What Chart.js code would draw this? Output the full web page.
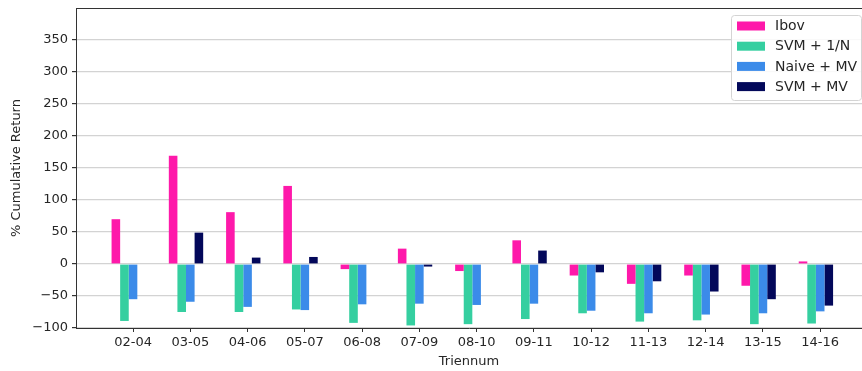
<!DOCTYPE html>
<html>
<head>
<meta charset="utf-8">
<script src="https://cdn.jsdelivr.net/npm/chart.js@4/dist/chart.umd.min.js"></script>
<style>
  html, body { margin: 0; padding: 0; background: #ffffff; overflow: hidden; }
  #wrap { width: 862px; height: 371px; }
</style>
</head>
<body>
<div id="wrap"><canvas id="chart" width="862" height="371"></canvas></div>
<script>
// Three-year windows
const categories = ['02-04', '03-05', '04-06', '05-07', '06-08', '07-09', '08-10',
                    '09-11', '10-12', '11-13', '12-14', '13-15', '14-16'];

// Cumulative return per window, in percent
const ibov    = [70, 169, 81, 122, -8, 24, -11, 37, -18, -31, -18, -34, 4];
const svm1n   = [-89, -75, -75, -71, -92, -96, -94, -86, -77, -90, -88, -94, -93];
const naiveMV = [-55, -59, -67, -72, -63, -62, -64, -62, -73, -77, -79, -77, -74];
const svmMV   = [0, 49, 10, 11, 0, -4, 0, 21, -13, -27, -43, -55, -65];

const yTicks = [-100, -50, 0, 50, 100, 150, 200, 250, 300, 350];

const seriesNames  = ['Ibov', 'SVM + 1/N', 'Naive + MV', 'SVM + MV'];
const seriesValues = [ibov, svm1n, naiveMV, svmMV];
const seriesColors = ['#fe19aa', '#35cfa0', '#3b8be9', '#03085a'];

// Each group of four bars sits so the tick falls on the third bar's centre.
const GROUP_SHIFT = -0.075;

const FONT = 'DejaVu Sans';
const TEXT = '#262626';
const SPINE = '#333333';

const datasets = seriesNames.map((name, s) => ({
  label: name,
  data: seriesValues[s].map((v, i) => ({ x: i + GROUP_SHIFT, y: v })),
  backgroundColor: seriesColors[s],
  borderWidth: 0,
  categoryPercentage: 0.6,
  barPercentage: 1.0
}));

// Top spine of the axes frame
const framePlugin = {
  id: 'frame',
  afterDraw(chart) {
    const { ctx, chartArea: a } = chart;
    ctx.save();
    ctx.strokeStyle = SPINE;
    ctx.lineWidth = 1;
    ctx.beginPath();
    ctx.moveTo(a.left, a.top + 0.5);
    ctx.lineTo(a.right, a.top + 0.5);
    ctx.stroke();
    ctx.restore();
  }
};

// Boxed legend in the upper right corner of the plot
const boxLegend = {
  id: 'boxLegend',
  afterDraw(chart) {
    const { ctx } = chart;
    const x = 731.5, y = 15.5, w = 130, h = 85, r = 3;
    ctx.save();
    ctx.beginPath();
    ctx.moveTo(x + r, y);
    ctx.lineTo(x + w - r, y);
    ctx.arcTo(x + w, y, x + w, y + r, r);
    ctx.lineTo(x + w, y + h - r);
    ctx.arcTo(x + w, y + h, x + w - r, y + h, r);
    ctx.lineTo(x + r, y + h);
    ctx.arcTo(x, y + h, x, y + h - r, r);
    ctx.lineTo(x, y + r);
    ctx.arcTo(x, y, x + r, y, r);
    ctx.closePath();
    ctx.fillStyle = 'rgba(255,255,255,0.85)';
    ctx.fill();
    ctx.strokeStyle = '#d4d4d4';
    ctx.lineWidth = 1;
    ctx.stroke();

    ctx.font = '14px "' + FONT + '"';
    ctx.textBaseline = 'middle';
    ctx.textAlign = 'left';
    chart.data.datasets.forEach((ds, k) => {
      const cy = 26 + k * 20.2;
      ctx.fillStyle = ds.backgroundColor;
      ctx.fillRect(737, cy - 4.5, 28, 9);
      ctx.fillStyle = TEXT;
      ctx.fillText(ds.label, 775, cy + 0.5);
    });
    ctx.restore();
  }
};

new Chart(document.getElementById('chart'), {
  type: 'bar',
  data: { datasets },
  options: {
    responsive: false,
    animation: false,
    layout: { padding: { top: 8, right: 0, bottom: 0, left: 0 } },
    plugins: {
      legend: { display: false },
      tooltip: { enabled: false }
    },
    scales: {
      x: {
        type: 'linear',
        offset: false,
        min: -0.996,
        max: 12.73,
        afterFit(scale) {
          scale.height = 43;
          scale.paddingLeft = 0;
          scale.paddingRight = 0;
        },
        afterBuildTicks(scale) {
          scale.ticks = categories.map((c, i) => ({ value: i }));
        },
        grid: { offset: false, drawOnChartArea: false, drawTicks: true, tickLength: 4, tickColor: SPINE, color: SPINE },
        border: { display: true, color: SPINE, width: 1 },
        ticks: {
          autoSkip: false,
          maxRotation: 0,
          padding: 3,
          color: TEXT,
          font: { family: FONT, size: 13 },
          callback: (v) => categories[v]
        },
        title: {
          display: true,
          text: 'Triennum',
          color: TEXT,
          font: { family: FONT, size: 13 },
          padding: { top: 0, bottom: 2 }
        }
      },
      y: {
        min: -100,
        max: 400,
        afterFit(scale) {
          scale.width = 76;
          scale.paddingTop = 0;
          scale.paddingBottom = 0;
        },
        afterBuildTicks(scale) {
          scale.ticks = yTicks.map(v => ({ value: v }));
        },
        grid: { color: '#d3d3d3', lineWidth: 1.2, drawTicks: true, tickLength: 4, tickColor: SPINE },
        border: { display: true, color: SPINE, width: 1 },
        ticks: {
          padding: 4,
          color: TEXT,
          font: { family: FONT, size: 13 },
          callback: (v) => (v < 0 ? '\u2212' + Math.abs(v) : String(v))
        },
        title: {
          display: true,
          text: '% Cumulative Return',
          color: TEXT,
          font: { family: FONT, size: 13 },
          padding: { top: 9, bottom: 0 }
        }
      }
    }
  },
  plugins: [framePlugin, boxLegend]
});
</script>
</body>
</html>
